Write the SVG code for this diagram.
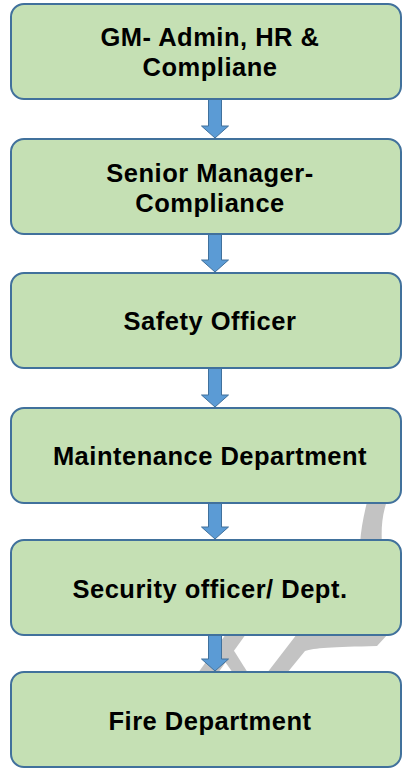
<svg xmlns="http://www.w3.org/2000/svg" width="403" height="769" viewBox="0 0 403 769">
<style>
.box{fill:#C5E0B4;stroke:#41719C;stroke-width:2}
.lbl{font-family:"Liberation Sans",Arial,sans-serif;font-weight:bold;font-size:25.5px;letter-spacing:0.5px;fill:#000;text-anchor:middle}
.arr{fill:#5B9BD5;stroke:#41719C;stroke-width:1}
.wm{fill:#C3C3C3}
</style>
<rect x="0" y="0" width="403" height="769" fill="#FFFFFF"/>
<g id="watermark">
<path class="wm" d="M368,498 C364,514 361,528 360,544 L382,544 C381,528 382,514 388,498 Z"/>
<path class="wm" d="M226,634 L246,634 L218,673 L198,673 Z"/>
<path class="wm" d="M221,656 L231,646 L248,673 L233,673 Z"/>
<path class="wm" d="M267,673 L287,673 L305,651 C314,648 332,647 377,646 L388,634 L297,634 Z"/>
</g>
<g id="connectors">
<path class="arr" d="M208.5,99 L221.5,99 L221.5,126 L228.5,126 L215,138 L201.5,126 L208.5,126 Z"/>
<path class="arr" d="M208.5,234 L221.5,234 L221.5,260 L228.5,260 L215,272 L201.5,260 L208.5,260 Z"/>
<path class="arr" d="M208.5,368 L221.5,368 L221.5,395 L228.5,395 L215,407 L201.5,395 L208.5,395 Z"/>
<path class="arr" d="M208.5,503 L221.5,503 L221.5,527 L228.5,527 L215,539 L201.5,527 L208.5,527 Z"/>
<path class="arr" d="M208.5,635 L221.5,635 L221.5,659 L228.5,659 L215,671 L201.5,659 L208.5,659 Z"/>
</g>
<g id="node1">
<rect class="box" x="11" y="4" width="390" height="95" rx="13"/>
<text class="lbl" x="210" y="46">GM- Admin, HR &amp;</text>
<text class="lbl" x="210" y="75.5">Compliane</text>
</g>
<g id="node2">
<rect class="box" x="11" y="139" width="390" height="95" rx="13"/>
<text class="lbl" x="210" y="181.5">Senior Manager-</text>
<text class="lbl" x="210" y="211.5">Compliance</text>
</g>
<g id="node3">
<rect class="box" x="11" y="273" width="390" height="95" rx="13"/>
<text class="lbl" x="210" y="330">Safety Officer</text>
</g>
<g id="node4">
<rect class="box" x="11" y="408" width="390" height="95" rx="13"/>
<text class="lbl" x="210" y="465">Maintenance Department</text>
</g>
<g id="node5">
<rect class="box" x="11" y="540" width="390" height="95" rx="13"/>
<text class="lbl" x="210" y="597.5">Security officer/ Dept.</text>
</g>
<g id="node6">
<rect class="box" x="11" y="672" width="390" height="95" rx="13"/>
<text class="lbl" x="210" y="729.5">Fire Department</text>
</g>
</svg>
